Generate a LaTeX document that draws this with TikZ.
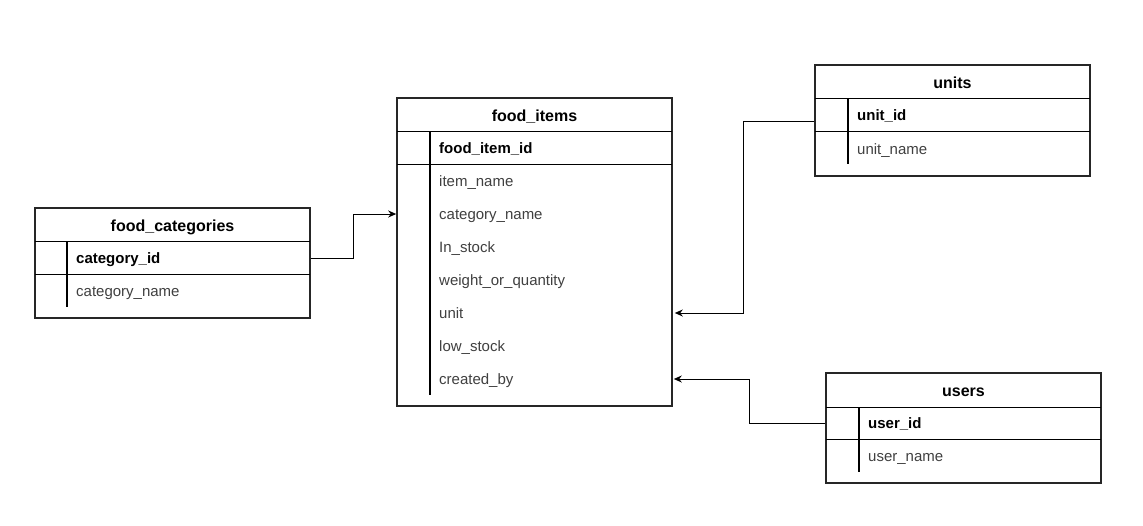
\documentclass[tikz,border=0pt]{standalone}
\usepackage{fontspec}
\setmainfont{Liberation Sans}
\usetikzlibrary{arrows.meta}
\tikzset{
  tbl/.style={draw=black!85, line width=1.6pt, fill=white, inner sep=0pt},
  hdr/.style={font=\fontsize{16}{19}\selectfont\bfseries, inner sep=0pt, text height=13pt, text depth=2pt},
  pk/.style={anchor=west, font=\fontsize{15}{18}\selectfont\bfseries, text=black, inner sep=0pt, text height=13pt, text depth=2pt},
  fld/.style={anchor=west, font=\fontsize{15}{18}\selectfont, text=black!75, inner sep=0pt, text height=13pt, text depth=2pt},
  sep/.style={draw=black, line width=0.9pt},
  keyline/.style={draw=black, line width=1.6pt},
  conn/.style={draw=black, line width=1pt, -{Stealth[length=8pt,width=7pt]}},
}
\begin{document}
\begin{tikzpicture}[x=1pt,y=-1pt]
\useasboundingbox (0,0) rectangle (1143,525);

% ---------- food_items ----------
\node[tbl, minimum width=275pt, minimum height=308pt] (fi) at (534.5,252) {};
\node[hdr] (fi-h) at (534.5,115.5) {food\_items};
\draw[sep] (397,131) -- (672,131);
\draw[sep] (397,164) -- (672,164);
\draw[keyline] (430,131) -- (430,395);
\node[pk]  (fi-id)   at (439,148) {food\_item\_id};
\node[fld] (fi-name) at (439,181) {item\_name};
\node[fld] (fi-cat)  at (439,214) {category\_name};
\node[fld] (fi-stk)  at (439,247) {In\_stock};
\node[fld] (fi-wq)   at (439,280) {weight\_or\_quantity};
\node[fld] (fi-unit) at (439,313) {unit};
\node[fld] (fi-low)  at (439,346) {low\_stock};
\node[fld] (fi-cby)  at (439,379) {created\_by};

% ---------- food_categories ----------
\node[tbl, minimum width=275pt, minimum height=110pt] (fc) at (172.5,263) {};
\node[hdr] (fc-h) at (172.5,225.5) {food\_categories};
\draw[sep] (35,241) -- (310,241);
\draw[sep] (35,274) -- (310,274);
\draw[keyline] (67,241) -- (67,307);
\node[pk]  (fc-id)   at (76,258) {category\_id};
\node[fld] (fc-name) at (76,291) {category\_name};

% ---------- units ----------
\node[tbl, minimum width=275pt, minimum height=111pt] (un) at (952.5,120.5) {};
\node[hdr] (un-h) at (952.5,82.5) {units};
\draw[sep] (815,98) -- (1090,98);
\draw[sep] (815,131) -- (1090,131);
\draw[keyline] (848,98) -- (848,164);
\node[pk]  (un-id)   at (857,115) {unit\_id};
\node[fld] (un-name) at (857,149) {unit\_name};

% ---------- users ----------
\node[tbl, minimum width=275pt, minimum height=110pt] (us) at (963.5,428) {};
\node[hdr] (us-h) at (963.5,390.5) {users};
\draw[sep] (826,407) -- (1101,407);
\draw[sep] (826,439) -- (1101,439);
\draw[keyline] (859,407) -- (859,472);
\node[pk]  (us-id)   at (868,423) {user\_id};
\node[fld] (us-name) at (868,456) {user\_name};

% ---------- connectors ----------
\coordinate (c1) at (353,258);
\draw[conn] (fc.east |- fc-id) -- (c1) |- (fi.west |- fi-cat);
\coordinate (c2) at (743,121);
\draw[conn] (un.west |- c2) -- (c2) |- ([xshift=2pt]fi.east |- fi-unit);
\coordinate (c3) at (749,423);
\draw[conn] (us.west |- us-id) -- (c3) |- ([xshift=1pt]fi.east |- fi-cby);
\end{tikzpicture}
\end{document}
